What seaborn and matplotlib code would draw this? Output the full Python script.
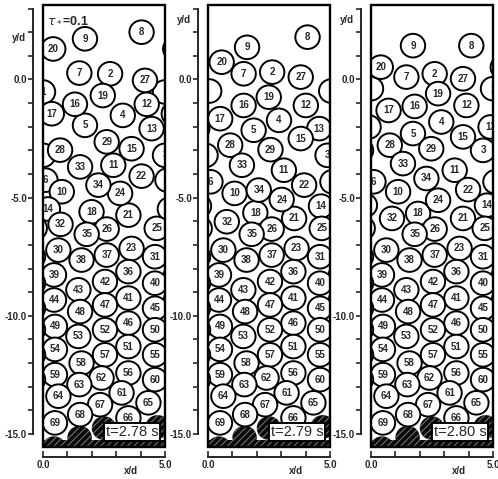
"""
Particle snapshots in a periodic channel over a rough hatched bed, three instants.
"""

import matplotlib

matplotlib.use("Agg")
import matplotlib.pyplot as plt
import numpy as np
import pandas as pd
import seaborn as sns
from matplotlib.patches import Circle, Rectangle

sns.set_style("ticks")
plt.rcParams["font.family"] = ["Liberation Sans", "DejaVu Sans"]
plt.rcParams["hatch.linewidth"] = 0.7

# particles whose position changes between the snapshots
top_ids = [1, 2, 3, 4, 5, 6, 7, 8, 9, 10, 11, 12, 13, 14, 15,
           16, 17, 18, 19, 20, 21, 22, 24, 27, 28, 29, 32, 33, 34]

top_x_278 = [0.00, 2.75, 5.00, 3.27, 1.72, 0.10, 1.49, 4.04, 1.72, 0.77, 2.88, 4.25, 4.45, 0.20, 3.63,
             1.31, 0.36, 1.99, 2.45, 0.42, 3.50, 4.04, 3.16, 4.18, 0.70, 2.61, 0.72, 1.52, 2.27]
top_y_278 = [-0.53, 0.24, -3.21, -1.52, -1.94, -4.26, 0.27, 2.00, 1.72, -4.75, -3.63, -1.05, -2.08, -5.48, -2.93,
             -1.05, -1.45, -5.60, -0.68, 1.29, -5.74, -4.09, -4.82, -0.04, -2.99, -2.64, -6.13, -3.70, -4.47]

top_x_279 = [5.05, 2.63, 4.90, 2.91, 1.87, 0.10, 1.46, 4.08, 1.60, 1.09, 3.11, 4.01, 4.56, 4.63, 3.80,
             1.46, 0.50, 1.94, 2.49, 0.56, 3.53, 3.94, 3.02, 3.80, 0.91, 2.56, 0.77, 1.39, 2.08]
top_y_279 = [-0.49, 0.31, -3.21, -1.73, -2.15, -4.33, 0.24, 1.79, 1.36, -4.82, -3.84, -1.10, -2.08, -5.36, -2.50,
             -1.10, -1.66, -5.64, -0.75, 0.73, -5.88, -4.47, -5.08, 0.10, -2.78, -2.97, -6.02, -3.63, -4.68]

top_x_280 = [5.00, 2.61, 4.59, 2.88, 1.72, 0.10, 1.45, 4.11, 1.72, 1.11, 3.43, 3.91, 4.90, 4.75, 3.77,
             1.79, 0.72, 1.93, 2.75, 0.40, 3.77, 3.98, 2.75, 3.77, 0.77, 2.47, 0.86, 1.31, 2.27]
top_y_280 = [-0.39, 0.24, -3.00, -1.80, -2.29, -4.33, 0.10, 1.43, 1.43, -4.75, -3.84, -1.10, -2.01, -5.32, -2.43,
             -1.14, -1.31, -5.67, -0.60, 0.52, -5.88, -4.66, -5.11, 0.03, -2.78, -2.93, -5.88, -3.56, -4.19]

# settled particles, same in all three snapshots
low_ids = [23, 25, 26, 30, 31, 35, 36, 37, 38, 39, 40, 41, 42, 43, 44, 45, 46, 47, 48, 49,
           50, 51, 52, 53, 54, 55, 56, 57, 58, 59, 60, 61, 62, 63, 64, 65, 66, 67, 68, 69]
low_x = [3.63, 4.66, 2.61, 0.63, 4.59, 1.79, 3.50, 2.61, 1.58, 0.45, 4.59, 3.50, 2.54, 1.45, 0.45,
         4.59, 3.50, 2.54, 1.52, 0.49, 4.59, 3.50, 2.54, 1.45, 0.49, 4.59, 3.50, 2.54, 1.58, 0.49,
         4.59, 3.22, 2.40, 1.49, 0.63, 4.32, 3.50, 2.34, 1.52, 0.49]
low_y = [-7.15, -6.30, -6.33, -7.22, -7.50, -6.55, -8.13, -7.43, -7.64, -8.27, -8.62, -9.25, -8.55, -8.90, -9.33,
         -9.68, -10.31, -9.54, -9.82, -10.45, -10.59, -11.30, -10.59, -10.87, -11.42, -11.65, -12.42, -11.65,
         -12.00, -12.49, -12.70, -13.26, -12.63, -12.91, -13.40, -13.68, -14.32, -13.76, -14.18, -14.53]

# fixed bed particles (hatched)
bed_x = [0.45, 1.50, 2.50, 3.50, 4.70]
bed_y = [-15.60, -15.15, -14.75, -15.20, -14.70]

times = ["t=2.78 s", "t=2.79 s", "t=2.80 s"]
top_x = [top_x_278, top_x_279, top_x_280]
top_y = [top_y_278, top_y_279, top_y_280]
ylab_pos = [0.914, 0.955, 0.955]

width = 5.0
y_bot, y_top = -15.55, 3.15
radius = 0.5

fig = plt.figure(figsize=(4.98, 4.79), dpi=100)
lefts = [43, 208, 371]

for k, left in enumerate(lefts):
    ax = fig.add_axes([left / 498, 1 - 447 / 479, 122 / 498, 442 / 479])
    df = pd.DataFrame({
        "id": top_ids + low_ids,
        "x": top_x[k] + low_x,
        "y": top_y[k] + low_y,
    })

    # bed
    for bx, by in zip(bed_x, bed_y):
        ax.add_patch(Circle((bx, by), 0.5, fc="#0a0a0a", ec="#7a7a7a", lw=0,
                            hatch="/////", zorder=1))
    ax.add_patch(Rectangle((0, y_bot), width, 0.28, fc="#0a0a0a", ec="#7a7a7a",
                           lw=0, hatch="/////", zorder=1))

    # particles with periodic images
    for _, row in df.iterrows():
        for dx in (-width, 0.0, width):
            ax.add_patch(Circle((row.x + dx, row.y), radius, fc="white", ec="black",
                                lw=1.4, zorder=2))
        ax.text(row.x, row.y, str(int(row.id)), ha="center", va="center",
                fontsize=7, fontweight="bold", zorder=3, clip_on=True)

    # channel walls
    ax.add_patch(Rectangle((0, y_bot), width, y_top - y_bot, fill=False, ec="black",
                           lw=1.7, clip_on=False, zorder=5))

    ax.text(3.65, -14.92, times[k], ha="center", va="center", fontsize=10.5, zorder=6,
            bbox=dict(boxstyle="square,pad=0.12", fc="white", ec="black", lw=1.4))
    if k == 0:
        ax.text(0.15, 2.5, r"$\tau_*$=0.1", ha="left", va="center", fontsize=9,
                fontweight="bold", zorder=6)

    ax.set_xlim(0, width)
    ax.set_ylim(y_bot, y_top)
    ax.set_facecolor("none")
    sns.despine(ax=ax, offset=7)
    ax.spines["left"].set_bounds(-15, 3)
    ax.spines["bottom"].set_bounds(0, 5)
    ax.spines["left"].set_linewidth(1.4)
    ax.spines["bottom"].set_linewidth(1.4)

    ax.set_xticks([0, 5])
    ax.set_xticklabels(["0.0", "5.0"])
    ax.set_xticks(np.arange(1, 5), minor=True)
    ax.set_yticks([0, -5, -10, -15])
    ax.set_yticklabels(["0.0", "-5.0", "-10.0", "-15.0"])
    ax.set_yticks(np.arange(-14, 4), minor=True)
    ax.tick_params(axis="x", which="both", direction="in", length=4, width=1.2,
                   labelsize=7, pad=2)
    ax.tick_params(axis="y", which="both", direction="out", length=3.5, width=1.2,
                   labelsize=7, pad=1)
    for lab in ax.get_xticklabels() + ax.get_yticklabels():
        lab.set_fontweight("bold")

    ax.set_xlabel("x/d", fontsize=7, fontweight="bold")
    ax.xaxis.set_label_coords(0.72, -0.043)
    ax.set_ylabel("y/d", fontsize=7, fontweight="bold", rotation=0)
    ax.yaxis.set_label_coords(-0.2, ylab_pos[k])

fig.savefig("out.png", dpi=100)
